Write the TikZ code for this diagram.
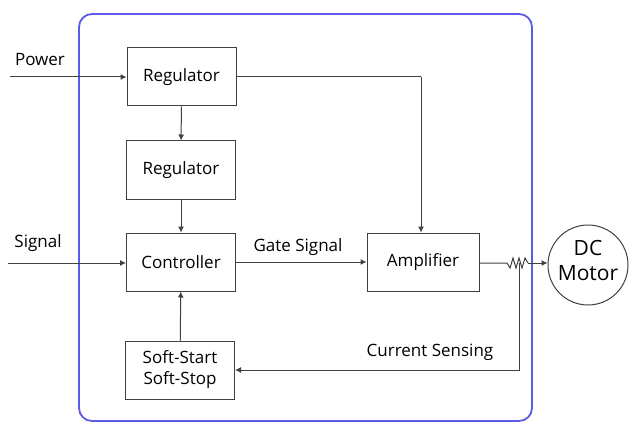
\documentclass[tikz,border=0pt]{standalone}
\usepackage{fontspec}
\setmainfont{Open Sans}
\usetikzlibrary{arrows.meta}
\definecolor{ln}{HTML}{404040}
\definecolor{frame}{HTML}{5B5BE6}
\begin{document}
\begin{tikzpicture}[x=1pt,y=-1pt,
  blk/.style={draw=ln,line width=1pt,minimum width=109pt,minimum height=58pt,inner sep=0pt,font=\fontsize{17}{21}\selectfont,align=center},
  lbl/.style={font=\fontsize{17}{20}\selectfont,inner sep=0pt},
  conn/.style={draw=ln,line width=1pt,-{Latex[length=6pt,width=6pt]}},
  plain/.style={draw=ln,line width=1pt}]
\useasboundingbox (0,0) rectangle (639,422);
\draw[frame,line width=1.8pt,rounded corners=13pt] (79,14) rectangle (532,421);
\node[blk] (reg1) at (181.5,77) {Regulator};
\node[blk] (reg2) at (181,170) {Regulator};
\node[blk] (ctrl) at (181,262) {Controller};
\node[blk] (soft) at (180,370) {Soft-Start\\Soft-Stop};
\node[blk,minimum width=112pt] (amp) at (423,262) {Amplifier};
\node[draw=ln,line width=1pt,circle,minimum size=80pt,inner sep=0pt] (mot) at (588,265) {};
\node[align=center,inner sep=0pt,font=\fontsize{21}{25}\selectfont] (mtxt) at (588,260) {DC\\Motor};
\coordinate (pw) at (10,77);
\coordinate (sg) at (8,263);
\node[lbl] (tpw) at (40,60) {Power};
\node[lbl] (tsg) at (38,243) {Signal};
\node[lbl] (tgs) at (298,247) {Gate Signal};
\node[lbl] (tcs) at (430,352) {Current Sensing};
\path[conn] (pw) -- (reg1.west);
\path[conn] (sg) -- (sg -| ctrl.west);
\path[conn] (reg1) -- (reg2);
\path[conn] (reg2) -- (ctrl);
\path[conn] (soft) -- (ctrl);
\path[conn] (ctrl.east |- amp) -- (amp.west);
\coordinate (tc) at (421,77);
\path[plain] (reg1.east |- tc) -- (tc);
\path[conn] (tc) -- (tc |- amp.north);
\coordinate (z0) at (507,263);
\coordinate (ts) at (519,263);
\coordinate (tb) at (519,370);
\path[plain] (amp.east |- z0) -- (z0) -- (510,268) -- (513,258) -- (516,268) -- (519,258) -- (522,268) -- (525,258) -- (528,263);
\path[conn] (528,263) -- (mot.west |- z0);
\path[conn] (ts) -- (tb) -- (soft.east |- tb);
\end{tikzpicture}
\end{document}
